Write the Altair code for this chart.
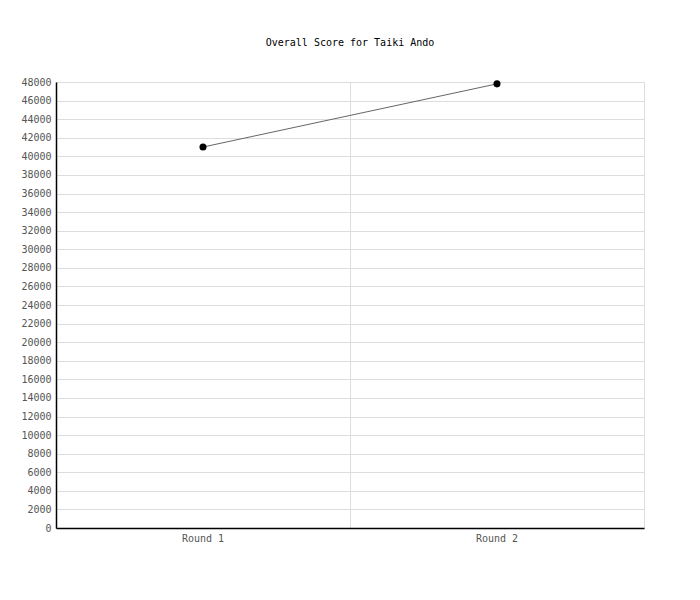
import altair as alt
import pandas as pd

rounds = ["Round 1", "Round 2"]
scores = [41000, 47800]

df = pd.DataFrame({"round": rounds, "score": scores})

FONT = "DejaVu Sans Mono"

x = alt.X("round:N", title=None, bandPosition=0.5,
          scale=alt.Scale(type="band", paddingInner=0, paddingOuter=0),
          axis=alt.Axis(bandPosition=0, ticks=False, labelAngle=0, labelPadding=5,
                        domainColor="#000", domainWidth=1.5, gridColor="#ddd", grid=True,
                        labelFont=FONT, labelFontSize=10, labelColor="#555"))
y = alt.Y("score:Q", title=None,
          scale=alt.Scale(domain=[0, 48000], nice=False),
          axis=alt.Axis(values=list(range(0, 48001, 2000)), ticks=False, labelPadding=5,
                        format="d",
                        domainColor="#000", domainWidth=1.5, gridColor="#ddd",
                        labelFont=FONT, labelFontSize=10, labelColor="#555"))

line = alt.Chart(df).mark_line(color="#666", strokeWidth=1).encode(x=x, y=y)
pts = alt.Chart(df).mark_point(filled=True, color="#000", size=50, opacity=1).encode(x=x, y=y)

chart = (line + pts).properties(
    width=588, height=446,
    title=alt.TitleParams("Overall Score for Taiki Ando", font=FONT, fontSize=10,
                          fontWeight="normal", color="#000", offset=29, anchor="middle"),
    autosize=alt.AutoSizeParams(type="none"),
    padding={"left": 48, "top": 74, "right": 48, "bottom": 64},
).configure_view(stroke="#ddd", strokeWidth=1)

chart.save("out.html", embed_options={"renderer": "svg", "actions": False})
